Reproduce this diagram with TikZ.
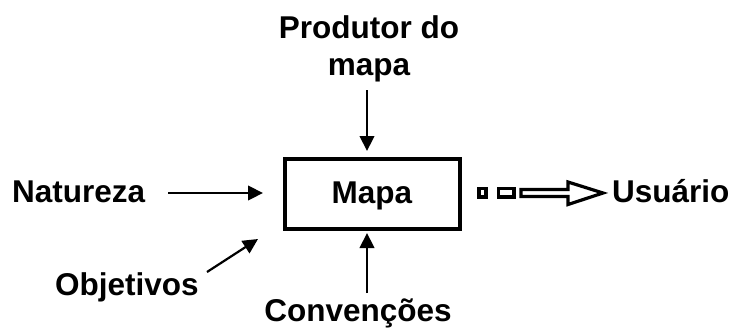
\documentclass[tikz,border=0pt]{standalone}
\usepackage{fontspec}
\setmainfont{Liberation Sans}
\usetikzlibrary{arrows.meta}
\tikzset{
  lbl/.style={font=\bfseries\fontsize{31.5}{37}\selectfont, inner sep=0pt, anchor=base},
  conn/.style={line width=2.2pt, -{Triangle[length=15pt,width=14.5pt]}},
  mapbox/.style={draw, line width=4pt, minimum width=175pt, minimum height=70pt, inner sep=0pt},
  hollow/.style={draw, line width=3.2pt, fill=white, line join=miter}
}
\begin{document}
\begin{tikzpicture}[x=1pt,y=-1pt]
  \useasboundingbox (0,0) rectangle (738,327);
  % central box
  \node[mapbox] (mapa) at (372.5,193.5) {};
  \node[lbl] (mapatxt) at (372,203) {Mapa};
  % labels
  \node[lbl, align=center] (produtor) at (369,75) {Produtor do\\mapa};
  \node[lbl] (convencoes) at (358,321) {Convenções};
  \node[lbl, anchor=base west] (natureza) at (12,202) {Natureza};
  \node[lbl, anchor=base west] (objetivos) at (55,295) {Objetivos};
  \node[lbl, anchor=base west] (usuario) at (612,202) {Usuário};
  % connector end points
  \coordinate (pTail) at (367,90);
  \coordinate (pTip) at (367,151);
  \coordinate (cTail) at (367,293);
  \coordinate (cTip) at (367,233);
  \coordinate (nTail) at (168,193);
  \coordinate (nTip) at (263,193);
  \coordinate (oTail) at (207,272);
  \coordinate (oTip) at (258,239);
  \draw[conn] (pTail) -- (pTip);
  \draw[conn] (cTail) -- (cTip);
  \draw[conn] (nTail) -- (nTip);
  \draw[conn] (oTail) -- (oTip);
  % open double-line arrow towards the user
  \draw[hollow] (479,188.5) rectangle (486,197);
  \draw[hollow] (498.5,188.5) rectangle (514,197);
  \draw[hollow] (521,189.5) -- (568,189.5) -- (568,182) -- (603,193) -- (568,204.5)
    -- (568,196.5) -- (521,196.5) -- cycle;
\end{tikzpicture}
\end{document}
